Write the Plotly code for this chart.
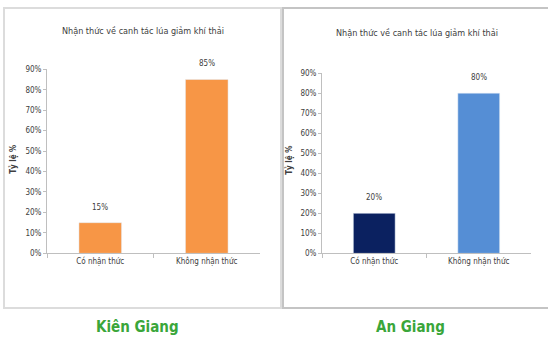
import plotly.graph_objects as go

categories = ["Có nhận thức", "Không nhận thức"]
kien_giang = [0.15, 0.85]
an_giang = [0.20, 0.80]
kg_colors = ["#F79646", "#F79646"]
ag_colors = ["#0B2160", "#558ED5"]
tick_vals = [0, 0.1, 0.2, 0.3, 0.4, 0.5, 0.6, 0.7, 0.8, 0.9]
tick_text = ["0%", "10%", "20%", "30%", "40%", "50%", "60%", "70%", "80%", "90%"]
chart_title = "Nhận thức về canh tác lúa giảm khí thải"
y_title = "Tỷ lệ %"
panel_names = ["Kiên Giang", "An Giang"]

W, H = 548, 347
def px(x): return x / W
def py(y): return 1 - y / H

FONT = "Liberation Sans Narrow, DejaVu Sans Condensed, Arial Narrow, sans-serif"

fig = go.Figure()
fig.add_trace(go.Bar(x=categories, y=kien_giang, marker_color=kg_colors, width=0.4,
                     xaxis="x", yaxis="y", showlegend=False))
fig.add_trace(go.Bar(x=categories, y=an_giang, marker_color=ag_colors, width=0.4,
                     xaxis="x2", yaxis="y2", showlegend=False))

axis_common_y = dict(range=[0, 0.9], tickvals=tick_vals, ticktext=tick_text, showgrid=False,
                     zeroline=False, showline=True, linecolor="#BFBFBF", linewidth=1,
                     ticks="outside", ticklen=3, tickcolor="#BFBFBF",
                     tickfont=dict(size=8, color="#404040", family=FONT), fixedrange=True)
axis_common_x = dict(showgrid=False, zeroline=False, showline=True, linecolor="#BFBFBF", linewidth=1,
                     ticks="outside", ticklen=4, tickcolor="#BFBFBF", tickson="boundaries",
                     tickfont=dict(size=8, color="#404040", family=FONT), fixedrange=True)

def ann(text, x, y, size, color, angle=0):
    return dict(text=text, x=px(x), y=py(y), xref="paper", yref="paper", showarrow=False,
                xanchor="center", yanchor="middle", textangle=angle,
                font=dict(size=size, color=color, family=FONT))

annotations = [
    ann(chart_title, 143, 28, 9, "#404040"),
    ann(chart_title, 417, 30, 9, "#404040"),
    ann("<b>" + y_title + "</b>", 13, 160, 8, "#404040", -90),
    ann("<b>" + y_title + "</b>", 289, 161, 8, "#404040", -90),
    ann("<b>" + panel_names[0] + "</b>", 137, 332, 15, "#3AA63A"),
    ann("<b>" + panel_names[1] + "</b>", 410, 332, 15, "#3AA63A"),
]
for xr, yr, vals in [("x", "y", kien_giang), ("x2", "y2", an_giang)]:
    for c, v in zip(categories, vals):
        annotations.append(dict(text=f"{int(round(v*100))}%", x=c, y=v, xref=xr, yref=yr,
                                showarrow=False, yanchor="bottom", yshift=9,
                                font=dict(size=8, color="#404040", family=FONT)))

fig.update_layout(
    width=W, height=H, margin=dict(l=0, r=0, t=0, b=0),
    paper_bgcolor="white", plot_bgcolor="rgba(0,0,0,0)",
    xaxis=dict(domain=[px(47), px(260)], anchor="y", **axis_common_x),
    yaxis=dict(domain=[py(256), py(67)], anchor="x", **axis_common_y),
    xaxis2=dict(domain=[px(322), px(531)], anchor="y2", **axis_common_x),
    yaxis2=dict(domain=[py(256), py(71)], anchor="x2", **axis_common_y),
    shapes=[
        dict(type="rect", xref="paper", yref="paper", x0=px(4), x1=px(281), y0=py(312), y1=py(4),
             line=dict(color="#DCDCDC", width=2), layer="below"),
        dict(type="rect", xref="paper", yref="paper", x0=px(283), x1=px(549), y0=py(312), y1=py(4),
             line=dict(color="#C4C4C4", width=2), layer="below"),
    ],
    annotations=annotations,
)

fig.write_html("out.html")
